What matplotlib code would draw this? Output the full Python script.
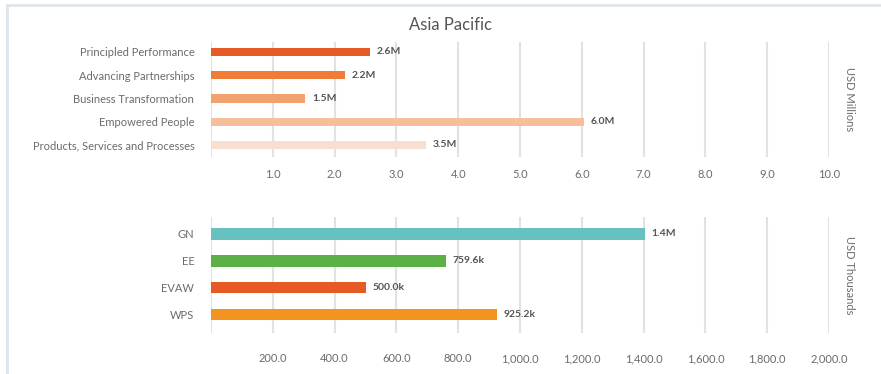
import matplotlib.pyplot as plt
from matplotlib.lines import Line2D

plt.rcParams['font.family'] = ['Lato', 'DejaVu Sans']

# funding by strategic pillar, USD millions
pillars = ['Principled Performance', 'Advancing Partnerships', 'Business Transformation',
           'Empowered People', 'Products, Services and Processes']
pillar_values = [2.57, 2.17, 1.52, 6.03, 3.48]
pillar_colors = ['#E55B25', '#EE7E37', '#F2A26E', '#F6BE9B', '#F9DFD0']
pillar_ticks = [1.0, 2.0, 3.0, 4.0, 5.0, 6.0, 7.0, 8.0, 9.0, 10.0]

# funding by thematic area, USD thousands
themes = ['GN', 'EE', 'EVAW', 'WPS']
theme_values = [1403.0, 759.6, 500.0, 925.2]
theme_colors = ['#67C1C1', '#5CB146', '#E85A24', '#F39420']
theme_ticks = [200.0, 400.0, 600.0, 800.0, 1000.0, 1200.0, 1400.0, 1600.0, 1800.0, 2000.0]

text_color = '#6b6b6b'
value_color = '#555555'
grid_color = '#e2e2e2'


def fmt_value(v, thousands=False):
    if thousands:
        if v >= 1000:
            return f'{v / 1000:.1f}M'
        return f'{v:.1f}k'
    return f'{v:.1f}M'


def draw_panel(ax, labels, values, colors, ticks, xmax, ylim, bar_h, unit, thousands, tick_pad):
    pos = list(range(len(labels)))
    ax.barh(pos, values, height=bar_h, color=colors, zorder=3)
    ax.set_xlim(0, xmax)
    ax.set_ylim(*ylim)
    ax.set_yticks(pos)
    ax.set_yticklabels(labels)
    ax.set_xticks([0] + ticks)
    ax.set_xticklabels([''] + [f'{t:,.1f}' for t in ticks])
    ax.tick_params(axis='y', length=0, pad=12, labelsize=8, labelcolor=text_color)
    ax.tick_params(axis='x', length=0, pad=tick_pad, labelsize=8, labelcolor=text_color)
    ax.grid(axis='x', color=grid_color, linewidth=1.5, zorder=0)
    for s in ax.spines.values():
        s.set_visible(False)
    for p, v in zip(pos, values):
        ax.annotate(fmt_value(v, thousands), (v, p), xytext=(5, 0), textcoords='offset points',
                    va='center', ha='left', fontsize=7.5, fontweight='bold', color=value_color)
    ax.text(1.025, 0.5, unit, transform=ax.transAxes, rotation=-90, va='center', ha='left',
            fontsize=8, color=text_color)


fig = plt.figure(figsize=(8.81, 3.74), dpi=100)
left = 211 / 881
width = (829 - 211) / 881

ax1 = fig.add_axes([left, 1 - 157 / 374, width, 115 / 374])
draw_panel(ax1, pillars, pillar_values, pillar_colors, pillar_ticks, 10.0,
           (4.52, -0.43), 0.36, 'USD Millions', False, 8.5)

ax2 = fig.add_axes([left, 1 - 333 / 374, width, 116 / 374])
draw_panel(ax2, themes, theme_values, theme_colors, theme_ticks, 2000.0,
           (3.67, -0.63), 0.41, 'USD Thousands', True, 14.5)

fig.text(451 / 881, 1 - 25 / 374, 'Asia Pacific', ha='center', va='center',
         fontsize=12, color='#555555')

# light frame along the top and left edges
frame = '#dde6ea'
fig.add_artist(Line2D([7 / 881, 1], [1 - 5 / 374, 1 - 5 / 374], color=frame, linewidth=2))
fig.add_artist(Line2D([7 / 881, 7 / 881], [0, 1 - 5 / 374], color=frame, linewidth=2))

fig.savefig('out.png', dpi=100)
